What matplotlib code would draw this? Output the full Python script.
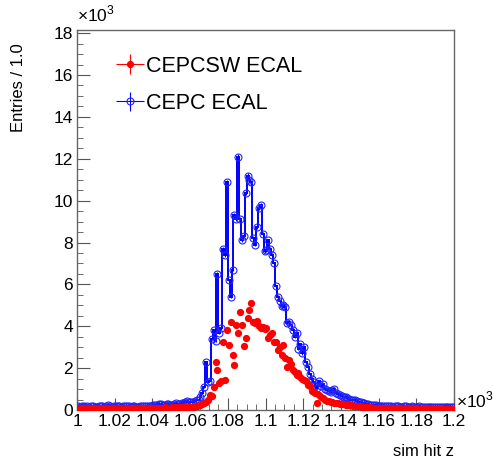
import numpy as np
import matplotlib
matplotlib.use('Agg')
import matplotlib.pyplot as plt
from matplotlib.ticker import MultipleLocator, FuncFormatter
from matplotlib.legend_handler import HandlerErrorbar

plt.rcParams['font.family'] = ['Liberation Sans', 'DejaVu Sans']
plt.rcParams['mathtext.fontset'] = 'custom'
plt.rcParams['mathtext.rm'] = 'Liberation Sans'

# Histogram binning: 200 bins of width 1.0 between 1000 and 1200
bin_lo, bin_hi, n_bins = 1000, 1200, 200

# CEPC ECAL (blue histogram), entries per bin
cepc_ecal = [
    180, 150, 200, 170, 160, 190, 140, 170, 210, 160,
    150, 180, 200, 170, 160, 190, 220, 170, 150, 180,
    200, 170, 190, 160, 210, 180, 170, 200, 160, 190,
    180, 150, 120, 170, 190, 200, 180, 210, 190, 170,
    220, 260, 240, 300, 280, 250, 230, 270, 300, 260,
    240, 280, 320, 290, 300, 350, 330, 380, 420, 360,
    400, 380, 450, 500, 480, 600, 800, 1100, 2300, 1350,
    1400, 3400, 3800, 3300, 6500, 3700, 3900, 7700, 7400, 10900,
    6200, 5400, 6700, 9300, 9100, 12100, 9100, 8100, 8300, 10350,
    11200, 11000, 10900, 8200, 7900, 8750, 9650, 9800, 8400, 7600,
    7650, 8100, 7700, 7400, 7000, 5900, 5400, 5200, 4950, 5000,
    4900, 4150, 4200, 4050, 3800, 3500, 3700, 2900, 3150, 2700,
    3000, 2300, 2050, 1700, 1500, 1350, 1150, 1050, 1400, 1150,
    1250, 1000, 950, 900, 850, 950, 1000, 800, 750, 700,
    650, 620, 600, 560, 520, 500, 480, 460, 450, 400,
    380, 350, 330, 300, 280, 250, 240, 230, 220, 210,
    200, 190, 210, 180, 170, 200, 190, 160, 180, 170,
    190, 160, 150, 180, 170, 160, 150, 170, 140, 160,
    150, 170, 140, 150, 160, 130, 150, 140, 160, 130,
    140, 150, 130, 140, 120, 150, 130, 140, 120, 130,
]

# CEPCSW ECAL (red points), entries per bin
cepcsw_ecal = [
    90, 70, 100, 80, 60, 90, 110, 70, 80, 100,
    60, 90, 80, 70, 100, 80, 90, 60, 80, 100,
    70, 90, 80, 100, 60, 80, 90, 70, 100, 80,
    90, 70, 80, 100, 90, 80, 70, 90, 100, 80,
    90, 100, 80, 110, 90, 100, 120, 90, 110, 100,
    120, 110, 130, 100, 120, 140, 130, 120, 150, 140,
    150, 160, 180, 200, 220, 250, 280, 320, 400, 500,
    720, 650, 1100, 2300, 1900, 1300, 1400, 3260, 1430, 3800,
    3100, 4200, 2630, 2150, 4060, 3660, 4700, 4050, 3060, 3440,
    4380, 4800, 5100, 4200, 4150, 4250, 4000, 3900, 3950, 3850,
    3900, 3440, 3600, 3700, 3260, 3250, 2870, 3000, 2630, 3100,
    2500, 2070, 2400, 2200, 1900, 1800, 1670, 1750, 1600, 1500,
    1430, 1400, 1200, 1150, 900, 850, 800, 330, 700, 600,
    550, 500, 450, 430, 400, 380, 350, 330, 320, 300,
    280, 270, 250, 240, 230, 220, 200, 190, 180, 170,
    160, 150, 140, 130, 130, 120, 110, 110, 100, 100,
    100, 90, 90, 100, 80, 90, 80, 90, 70, 80,
    80, 90, 70, 80, 90, 70, 80, 70, 90, 70,
    80, 70, 60, 80, 70, 80, 60, 70, 80, 60,
    70, 60, 80, 60, 70, 60, 70, 60, 50, 60,
]

edges = np.linspace(bin_lo, bin_hi, n_bins + 1)
centers = 0.5 * (edges[:-1] + edges[1:])
blue = np.array(cepc_ecal, dtype=float)
red = np.array(cepcsw_ecal, dtype=float)

fig = plt.figure(figsize=(4.93, 4.58), dpi=100)
ax = fig.add_axes([77 / 493, 1 - 410 / 458, 377 / 493, 380 / 458])

# Blue: step histogram with open markers
ax.stairs(blue, edges, color='#0000ff', lw=1.4, zorder=2)
h_blue = ax.errorbar(centers, blue, yerr=np.sqrt(blue), xerr=0.5,
                     fmt='o', ms=5, mfc='none', mec='#2222ff', mew=0.8,
                     color='#0000ff', elinewidth=0.8, zorder=3)

# Red: filled points with errors
h_red = ax.errorbar(centers, red, yerr=np.sqrt(red), xerr=0.5,
                    fmt='o', ms=4.2, color='#ff0000', mec='#ff0000',
                    elinewidth=0.8, zorder=4)

ax.set_xlim(bin_lo, bin_hi)
ax.set_ylim(0, 18150)

ax.xaxis.set_major_locator(MultipleLocator(20))
ax.xaxis.set_minor_locator(MultipleLocator(5))
ax.yaxis.set_major_locator(MultipleLocator(2000))
ax.yaxis.set_minor_locator(MultipleLocator(500))
ax.xaxis.set_major_formatter(FuncFormatter(lambda v, p: f'{v / 1000:g}'))
ax.yaxis.set_major_formatter(FuncFormatter(lambda v, p: f'{v / 1000:g}'))

ax.tick_params(which='both', direction='in', top=False, right=False,
               labelsize=12.5, color='#555555', pad=3)
ax.tick_params(which='major', length=9)
ax.tick_params(which='minor', length=4.5)
for sp in ax.spines.values():
    sp.set_color('#666666')
    sp.set_linewidth(1.0)

ax.text(0.0, 1.015, r'$\times10^{3}$', transform=ax.transAxes,
        fontsize=12.5, ha='left', va='bottom')
ax.text(1.005, 0.0, r'$\times10^{3}$', transform=ax.transAxes,
        fontsize=12.5, ha='left', va='bottom')

ax.set_xlabel('sim hit z', fontsize=12, loc='right')
ax.xaxis.set_label_coords(1.0, -0.09)
ax.set_ylabel('Entries / 1.0', fontsize=12, loc='top')
ax.yaxis.set_label_coords(-0.135, 0.965)

leg = ax.legend([h_red, h_blue], ['CEPCSW ECAL', 'CEPC ECAL'],
                loc='upper left', bbox_to_anchor=(0.08, 0.955),
                frameon=False, fontsize=15.5, handlelength=1.3,
                handletextpad=0.1, labelspacing=0.75, borderaxespad=0,
                handler_map={h_red: HandlerErrorbar(xerr_size=0.65, yerr_size=0.45),
                             h_blue: HandlerErrorbar(xerr_size=0.65, yerr_size=0.45)})

fig.savefig('out.png', dpi=100)
